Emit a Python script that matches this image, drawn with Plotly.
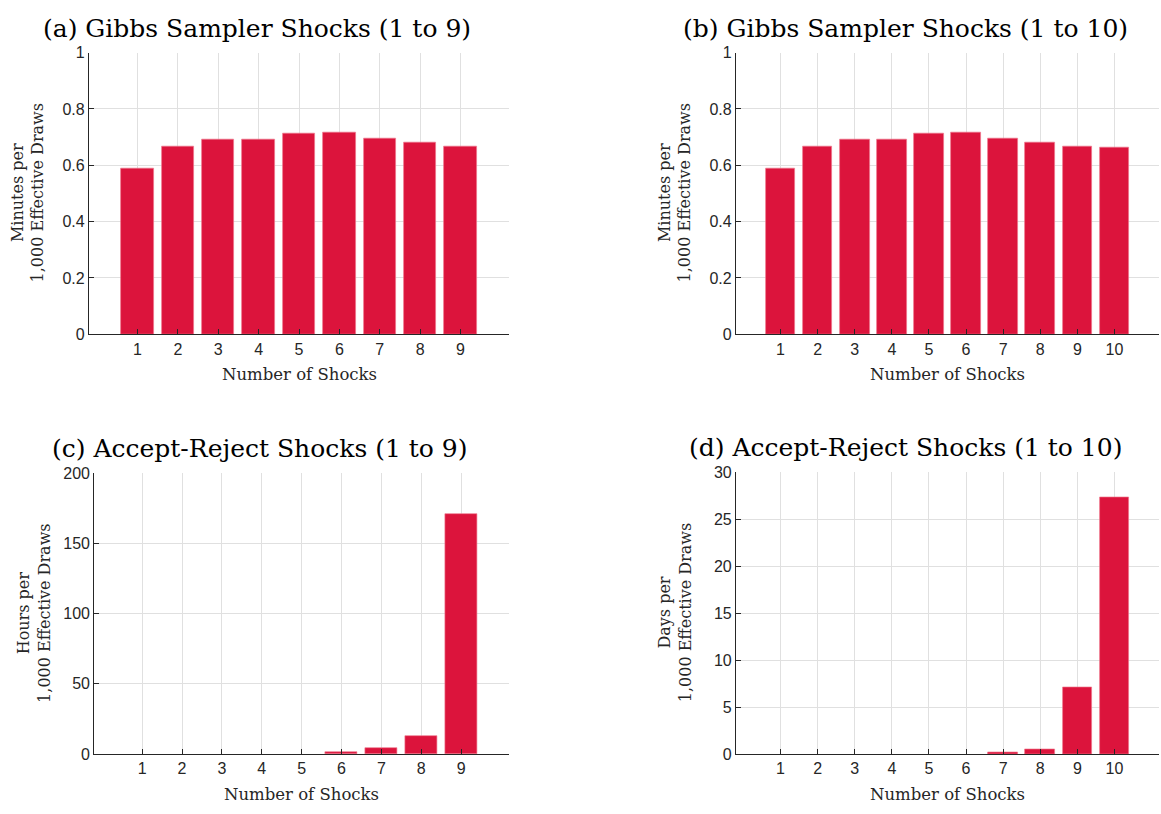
import plotly.graph_objects as go

shocks_9 = [1, 2, 3, 4, 5, 6, 7, 8, 9]
shocks_10 = [1, 2, 3, 4, 5, 6, 7, 8, 9, 10]

gibbs_9 = [0.589, 0.668, 0.690, 0.690, 0.712, 0.715, 0.696, 0.681, 0.666]
gibbs_10 = [0.589, 0.668, 0.690, 0.690, 0.712, 0.715, 0.696, 0.681, 0.666, 0.662]
ar_9_hours = [0.0, 0.0, 0.0, 0.0, 0.0, 1.1, 4.0, 13.0, 170.5]
ar_10_days = [0.0, 0.0, 0.0, 0.0, 0.0, 0.0, 0.14, 0.5, 7.06, 27.3]

titles = ["(a) Gibbs Sampler Shocks (1 to 9)", "(b) Gibbs Sampler Shocks (1 to 10)",
          "(c) Accept-Reject Shocks (1 to 9)", "(d) Accept-Reject Shocks (1 to 10)"]
ylabels = ["Minutes per<br>1,000 Effective Draws", "Minutes per<br>1,000 Effective Draws",
           "Hours per<br>1,000 Effective Draws", "Days per<br>1,000 Effective Draws"]
xlabel = "Number of Shocks"

W, H = 1161, 814
BAR = "#DC143C"
AX = "#262626"
GRID = "#e0e0e0"
SERIF = "DejaVu Serif"
SANS = "Liberation Sans"

# panel pixel boxes: left, right, top, bottom
boxes = [(89, 509, 45.5, 333.3), (736, 1159, 45.5, 333.3),
         (94.3, 509, 475, 762), (736, 1159, 474.3, 762)]
data = [(shocks_9, gibbs_9, [0, 1], 0.2), (shocks_10, gibbs_10, [0, 1], 0.2),
        (shocks_9, ar_9_hours, [0, 200], 50), (shocks_10, ar_10_days, [0, 30], 5)]

fig = go.Figure()
annotations = []
for i, ((l, r, t, b), (xs, ys, yr, dt)) in enumerate(zip(boxes, data)):
    k = "" if i == 0 else str(i + 1)
    lw = [0.8 if v > 0 else 0 for v in ys]
    fig.add_trace(go.Bar(x=xs, y=ys, width=0.8,
                         marker=dict(color=BAR, line=dict(color="rgba(240,120,140,0.8)", width=lw)),
                         xaxis="x" + k, yaxis="y" + k, showlegend=False))
    n = len(xs)
    xd = [l / W, r / W]
    yd = [(H - b) / H, (H - t) / H]
    common = dict(ticks="inside", ticklen=5, tickcolor=AX, showline=True, linecolor=AX, linewidth=1.2,
                  showgrid=True, gridcolor=GRID, gridwidth=1, zeroline=False,
                  tickfont=dict(family=SANS, size=16, color=AX))
    fig.update_layout(**{
        "xaxis" + k: dict(domain=xd, anchor="y" + k, range=[-0.2, n + 1.2], tickvals=xs, **common),
        "yaxis" + k: dict(domain=yd, anchor="x" + k, range=yr, dtick=dt, **common),
    })
    cx = (l + r) / 2
    annotations.append(dict(text=titles[i], x=(cx - 42) / W, y=(H - (t - 25)) / H,
                            xref="paper", yref="paper", showarrow=False,
                            xanchor="center", yanchor="middle", font=dict(family=SERIF, size=25, color="#000")))
    annotations.append(dict(text=xlabel, x=cx / W, y=(H - (b + 41)) / H, xref="paper", yref="paper",
                            showarrow=False, xanchor="center", yanchor="middle",
                            font=dict(family=SERIF, size=16.5, color=AX)))
    annotations.append(dict(text=ylabels[i], x=(l - 61) / W, y=(H - (t + b) / 2) / H, xref="paper", yref="paper",
                            showarrow=False, xanchor="center", yanchor="middle", textangle=-90,
                            font=dict(family=SERIF, size=16, color=AX)))

fig.update_layout(width=W, height=H, margin=dict(l=0, r=0, t=0, b=0), plot_bgcolor="white",
                  paper_bgcolor="white", annotations=annotations, bargap=0)
fig.write_html("out.html")
